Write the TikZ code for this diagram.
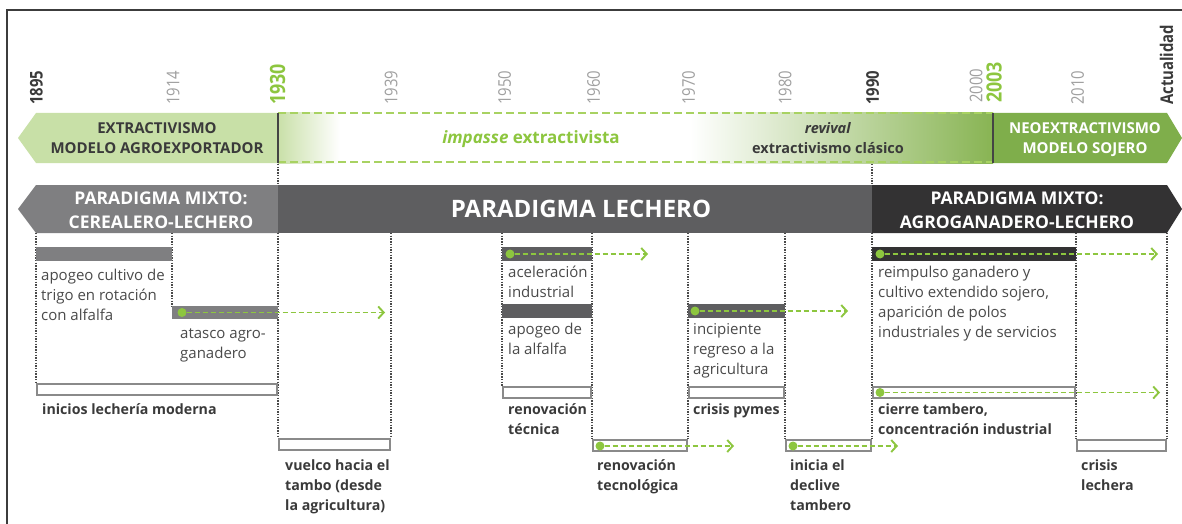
\documentclass[tikz,border=0pt]{standalone}
\usepackage{fontspec}
\setmainfont{Open Sans}
\newfontfamily\yrfont{Open Sans}[FakeStretch=0.85]
\usetikzlibrary{arrows.meta}
\definecolor{frame}{HTML}{3C3C3C}
\definecolor{lgband}{HTML}{C8E0A7}
\definecolor{dgband}{HTML}{7FAE4B}
\definecolor{lgr}{HTML}{8DC63F}
\definecolor{dashg}{HTML}{A8D262}
\definecolor{gradA}{HTML}{C9E0A8}
\definecolor{gradB}{HTML}{88B453}
\definecolor{grayA}{HTML}{7F7F81}
\definecolor{grayB}{HTML}{5E5E60}
\definecolor{grayC}{HTML}{333233}
\definecolor{gbar}{HTML}{8A8A8A}
\definecolor{dotc}{HTML}{4A4A4A}
\definecolor{txt}{HTML}{4A4A4A}
\definecolor{txtb}{HTML}{3A3A3A}
\definecolor{ygray}{HTML}{A0A0A0}
\definecolor{sepl}{HTML}{444444}
\begin{document}
\begin{tikzpicture}[x=1pt,y=-1pt,
  yr/.style={rotate=90,anchor=west,inner sep=0pt,text=ygray,font=\yrfont\fontsize{17.5}{17}\selectfont},
  yrb/.style={yr,text=txtb,font=\yrfont\bfseries\fontsize{17.5}{17}\selectfont},
  yrg/.style={yr,text=lgr,font=\yrfont\bfseries\fontsize{21}{21}\selectfont},
  reg/.style={anchor=north west,inner sep=0pt,align=left,text=txt,font=\fontsize{15}{20}\selectfont},
  bld/.style={anchor=north west,inner sep=0pt,align=left,text=txtb,font=\bfseries\fontsize{14.2}{20}\selectfont},
  head/.style={anchor=base,inner sep=0pt,font=\bfseries\fontsize{15}{18}\selectfont},
  phead/.style={anchor=base,inner sep=0pt,text=white,font=\bfseries\fontsize{17.5}{20}\selectfont},
  fbar/.style={anchor=north west,inner sep=0pt,outer sep=0pt,minimum height=14pt,draw=none},
  obar/.style={anchor=north west,inner sep=0pt,outer sep=0pt,draw=gbar,line width=2pt,fill=white,minimum height=11pt},
  dotl/.style={draw=dotc,line width=1.4pt,dash pattern=on 1.4pt off 1.3pt},
  garr/.style={draw=lgr,line width=1.9pt,dash pattern=on 5pt off 3pt,-{Straight Barb[length=5.5pt,width=12pt]}},
  gdot/.style={circle,fill=lgr,inner sep=0pt,minimum size=9pt}
]
\useasboundingbox (0,0) rectangle (1182,524);
\fill[white] (0,0) rectangle (1182,524);
% frame
\draw[frame,line width=1.5pt] (7,524) -- (7,10) -- (1182,10);

% ---------- years ----------
\node[yrb] (y1895) at (36.5,105) {1895};
\node[yr]  (y1914) at (173,105) {1914};
\node[yrg] (y1930) at (277.5,105) {1930};
\node[yr]  (y1939) at (391,105) {1939};
\node[yr]  (y1950) at (504.5,105) {1950};
\node[yr]  (y1960) at (593.5,105) {1960};
\node[yr]  (y1970) at (688.5,105) {1970};
\node[yr]  (y1980) at (785,105) {1980};
\node[yrb] (y1990) at (872.5,105) {1990};
\node[yr]  (y2000) at (976,103) {2000};
\node[yrg] (y2003) at (994,103) {2003};
\node[yr]  (y2010) at (1077.5,105) {2010};
\node[yrb] (yact) at (1166.5,105) {Actualidad};

% ---------- green band ----------
\fill[lgband] (18,138) -- (36,113) -- (278,113) -- (278,163) -- (36,163) -- cycle;
\shade[left color=gradA,right color=white] (278,113) rectangle (340,163);
\shade[left color=white,right color=gradB] (690,113) rectangle (993,163);
\draw[dashg,line width=2pt,dash pattern=on 8pt off 4pt] (278,113.5) -- (993,113.5);
\draw[dashg,line width=2pt,dash pattern=on 8pt off 4pt] (278,162) -- (993,162);
\fill[dgband] (993,113) -- (1167,113) -- (1182,138) -- (1167,163) -- (993,163) -- cycle;
\draw[sepl,line width=1.6pt] (278,113) -- (278,163);
\draw[sepl,line width=1.6pt] (993,113) -- (993,163);

\node[head,text=txtb] (h1a) at (157,133) {EXTRACTIVISMO};
\node[head,text=txtb] (h1b) at (157,153) {MODELO AGROEXPORTADOR};
\node[anchor=base,inner sep=0pt,text=lgr,font=\bfseries\fontsize{17}{20}\selectfont] (h2) at (531,143) {\textit{impasse} extractivista};
\node[anchor=base,inner sep=0pt,text=txtb,font=\bfseries\fontsize{14.5}{18}\selectfont] (h3a) at (828,133) {\textit{revival}};
\node[anchor=base,inner sep=0pt,text=txtb,font=\bfseries\fontsize{14.5}{18}\selectfont] (h3b) at (828,153) {extractivismo clásico};
\node[head,text=white] (h4a) at (1085,133) {NEOEXTRACTIVISMO};
\node[head,text=white] (h4b) at (1085,153) {MODELO SOJERO};

% dotted links between bands
\draw[dotl] (278,164) -- (278,185);
\draw[dotl] (872,164) -- (872,185);

% ---------- gray band ----------
\fill[grayA] (18,209) -- (36,185) -- (278,185) -- (278,233) -- (36,233) -- cycle;
\fill[grayB] (278,185) rectangle (872,233);
\fill[grayC] (872,185) -- (1167,185) -- (1182,209) -- (1167,233) -- (872,233) -- cycle;
\node[phead] (p1a) at (161,204) {PARADIGMA MIXTO:};
\node[phead] (p1b) at (161,228) {CEREALERO-LECHERO};
\node[anchor=base,inner sep=0pt,text=white,font=\bfseries\fontsize{24}{26}\selectfont] (p2) at (581,217) {PARADIGMA LECHERO};
\node[phead] (p3a) at (1017,204) {PARADIGMA MIXTO:};
\node[phead] (p3b) at (1017,228) {AGROGANADERO-LECHERO};

% ---------- dotted verticals ----------
\draw[dotl] (36,233) -- (36,383);
\draw[dotl] (172,233) -- (172,306);
\draw[dotl] (278,233) -- (278,438);
\draw[dotl] (391,233) -- (391,438);
\draw[dotl] (502,233) -- (502,386);
\draw[dotl] (592,233) -- (592,439);
\draw[dotl] (688,233) -- (688,439);
\draw[dotl] (785,233) -- (785,439);
\draw[dotl] (872,233) -- (872,439);
\draw[dotl] (1076,233) -- (1076,439);
\draw[dotl] (1167,233) -- (1167,439);

% ---------- bars ----------
\node[fbar,fill=grayA,minimum width=136pt] (b1) at (36,247) {};
\node[fbar,fill=grayA,minimum width=106pt,minimum height=13pt] (b2) at (172,306) {};
\node[obar,minimum width=240pt] (b3) at (37,384) {};
\node[obar,minimum width=111pt] (b4) at (279,439) {};
\node[fbar,fill=grayB,minimum width=90pt] (b5) at (502,247) {};
\node[fbar,fill=grayB,minimum width=90pt] (b6) at (502,304) {};
\node[fbar,fill=grayB,minimum width=97pt] (b7) at (688,304) {};
\node[obar,minimum width=88pt] (b8) at (503,387) {};
\node[obar,minimum width=95pt] (b9) at (689,387) {};
\node[obar,minimum width=94pt] (b10) at (593,440) {};
\node[obar,minimum width=85pt] (b11) at (786,440) {};
\node[fbar,fill=grayC,minimum width=204pt] (b12) at (872,247) {};
\node[obar,minimum width=202pt] (b13) at (873,387) {};
\node[obar,minimum width=89pt] (b14) at (1077,440) {};

% ---------- green arrows ----------
\coordinate (e2) at (385,312.5);
\coordinate (e5) at (648,254);
\coordinate (e7) at (848,311);
\coordinate (e10) at (734,446);
\coordinate (e11) at (898,446);
\coordinate (e12) at (1158,254);
\coordinate (e13) at (1160,392.5);
\node[gdot] (d2) at (182,312.5) {};
\node[gdot] (d5) at (510,254) {};
\node[gdot] (d7) at (695,311) {};
\node[gdot] (d10) at (600,446) {};
\node[gdot] (d11) at (793,446) {};
\node[gdot] (d12) at (880,254) {};
\node[gdot] (d13) at (880,392.5) {};
\draw[garr] (d2) -- (e2);
\draw[garr] (d5) -- (e5);
\draw[garr] (d7) -- (e7);
\draw[garr] (d10) -- (e10);
\draw[garr] (d11) -- (e11);
\draw[garr] (d12) -- (e12);
\draw[garr] (d13) -- (e13);

% ---------- labels ----------
\node[reg] (t1) at (41,266) {\strut apogeo cultivo de\\trigo en rotación\\con alfalfa};
\node[reg] (t2) at (180,324) {\strut atasco agro-\\ganadero};
\node[bld] (t3) at (42,400) {\strut inicios lechería moderna};
\node[bld] (t4) at (285,456) {\strut vuelco hacia el\\tambo (desde\\la agricultura)};
\node[reg] (t5) at (508,263) {\strut aceleración\\industrial};
\node[reg] (t6) at (508,320) {\strut apogeo de\\la alfalfa};
\node[reg] (t7) at (693,320) {\strut incipiente\\regreso a la\\agricultura};
\node[bld] (t8) at (508,400) {\strut renovación\\técnica};
\node[bld] (t9) at (693,400) {\strut crisis pymes};
\node[bld] (t10) at (597,456) {\strut renovación\\tecnológica};
\node[bld] (t11) at (790,456) {\strut inicia el\\declive\\tambero};
\node[reg] (t12) at (878,263) {\strut reimpulso ganadero y\\cultivo extendido sojero,\\aparición de polos\\industriales y de servicios};
\node[bld] (t13) at (878,400) {\strut cierre tambero,\\concentración industrial};
\node[bld] (t14) at (1081,456) {\strut crisis\\lechera};
\end{tikzpicture}
\end{document}
